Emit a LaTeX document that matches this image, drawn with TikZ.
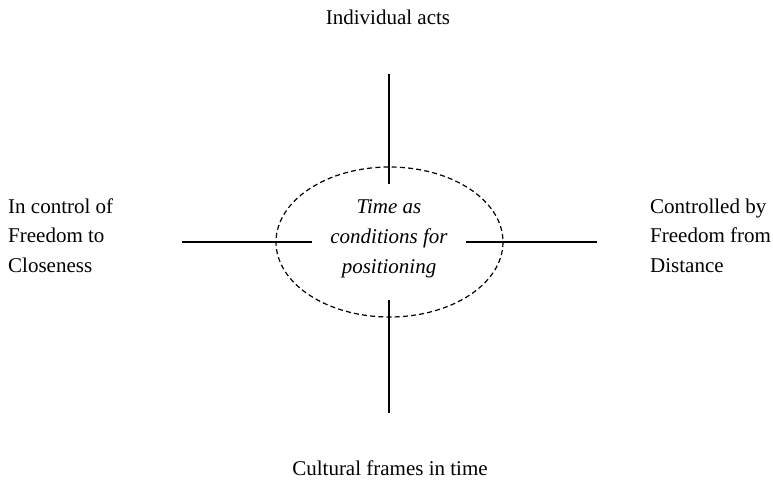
\documentclass[tikz,border=0pt]{standalone}
\usepackage{fontspec}
\setmainfont{Liberation Serif}
\begin{document}
\begin{tikzpicture}[x=1pt,y=-1pt,
  axis/.style={line width=1.3pt},
  txt/.style={font=\fontsize{21}{29.5}\selectfont, inner sep=0pt},
  rim/.style={line width=1.2pt, dash pattern=on 5pt off 3.2pt}]
\useasboundingbox (0,0) rectangle (773,481);

% central dashed ellipse
\draw[rim] (389.5,242) ellipse [x radius=113.5, y radius=75];
\coordinate (c) at (389.5,242);

% end points of the four axes
\coordinate (topA) at (389,74);
\coordinate (topB) at (389,184);
\coordinate (botA) at (389,300);
\coordinate (botB) at (389,413);
\coordinate (lefA) at (182,242);
\coordinate (lefB) at (312,242);
\coordinate (rigA) at (466,242);
\coordinate (rigB) at (597,242);

\draw[axis] (topA) -- (topB);
\draw[axis] (botA) -- (botB);
\draw[axis] (lefA) -- (lefB);
\draw[axis] (rigA) -- (rigB);

% axis labels
\node[txt, anchor=base] (top) at (388,25) {Individual acts};
\node[txt, anchor=base] (bottom) at (390,475) {Cultural frames in time};

\node[txt, anchor=base west] (l1) at (8,213) {In control of};
\node[txt, anchor=base west] (l2) at (8,242.5) {Freedom to};
\node[txt, anchor=base west] (l3) at (8,272) {Closeness};

\node[txt, anchor=base west] (r1) at (650,213) {Controlled by};
\node[txt, anchor=base west] (r2) at (650,242.5) {Freedom from};
\node[txt, anchor=base west] (r3) at (650,272) {Distance};

% centre text
\node[txt, anchor=base, font=\fontsize{21}{29.5}\selectfont\itshape] (c1) at (389,213) {Time as};
\node[txt, anchor=base, font=\fontsize{21}{29.5}\selectfont\itshape] (c2) at (389,243) {conditions for};
\node[txt, anchor=base, font=\fontsize{21}{29.5}\selectfont\itshape] (c3) at (389,273) {positioning};
\end{tikzpicture}
\end{document}
